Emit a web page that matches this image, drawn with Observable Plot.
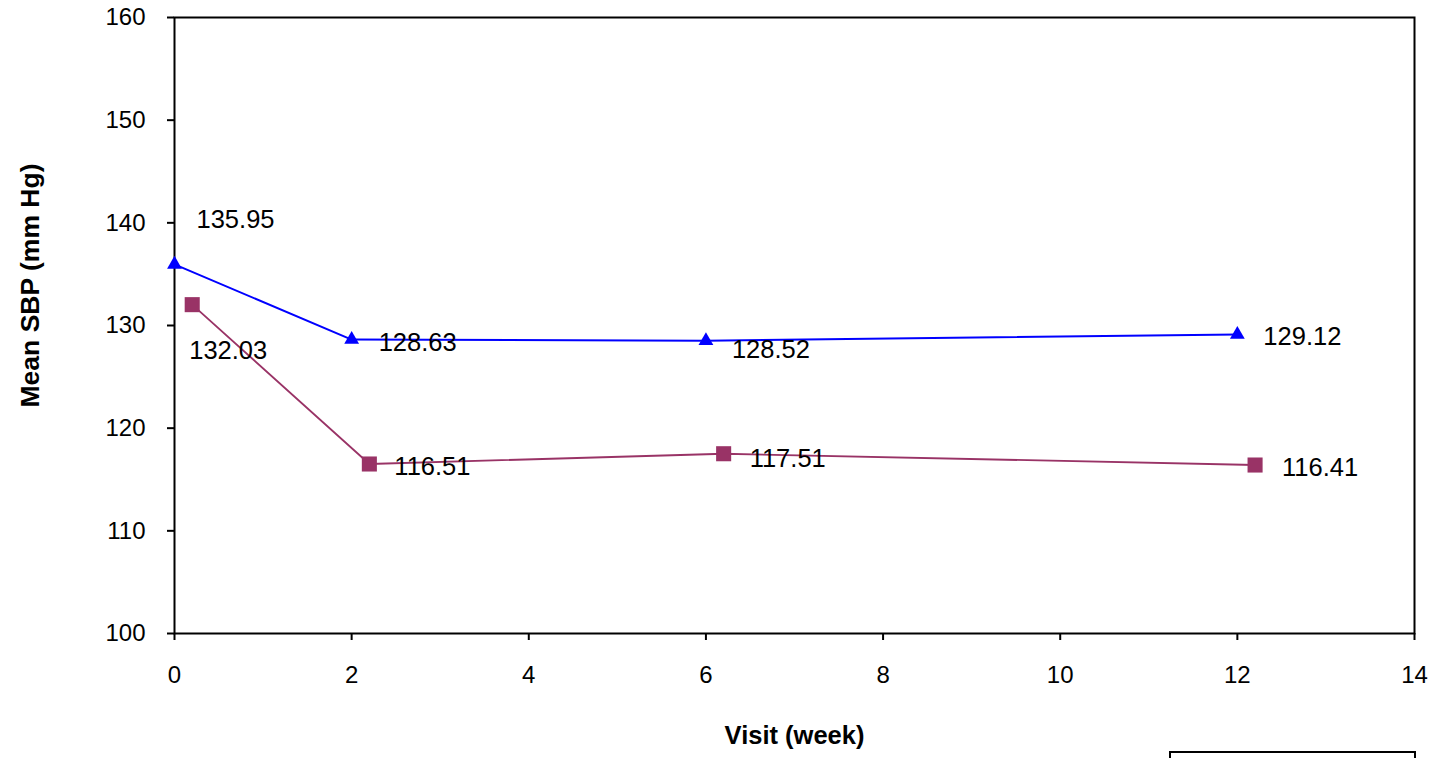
<!DOCTYPE html>
<html>
<head>
<meta charset="utf-8">
<script src="https://cdn.jsdelivr.net/npm/d3@7"></script>
<script src="https://cdn.jsdelivr.net/npm/@observablehq/plot@0.6"></script>
<style>
  html, body { margin: 0; padding: 0; background: #fff; overflow: hidden; }
  #wrap { position: relative; width: 1434px; height: 758px; }
  #legendbox { position: absolute; left: 1169px; top: 751px; width: 243px; height: 40px; border: 2px solid #000; background: #fff; }
</style>
</head>
<body>
<div id="wrap"><div id="chart"></div><div id="legendbox"></div></div>
<script>
// Data
const weeksA = [0, 2, 6, 12];              // blue triangles
const valuesA = [135.95, 128.63, 128.52, 129.12];
const weeksB = [0.2, 2.2, 6.2, 12.2];      // purple squares (plotted slightly offset)
const valuesB = [132.03, 116.51, 117.51, 116.41];
const xTicks = [0, 2, 4, 6, 8, 10, 12, 14];
const yTicks = [100, 110, 120, 130, 140, 150, 160];
const xTitle = "Visit (week)";
const yTitle = "Mean SBP (mm Hg)";

const blue = "#0000FF";
const purple = "#993366";

const dataA = weeksA.map((w, i) => ({x: w, y: valuesA[i], label: valuesA[i].toFixed(2)}));
const dataB = weeksB.map((w, i) => ({x: w, y: valuesB[i], label: valuesB[i].toFixed(2)}));

// label offsets (pixels) per point
const offA = [[22, -45], [27, 3], [26, 9], [26, 2]];
const offB = [[-3, 46], [25, 3], [26, 5], [27, 3]];

const labelMarks = [
  ...dataA.map((d, i) => Plot.text([d], {x: "x", y: "y", text: "label", textAnchor: "start", dx: offA[i][0], dy: offA[i][1], fontSize: 25.5, fill: "#000"})),
  ...dataB.map((d, i) => Plot.text([d], {x: "x", y: "y", text: "label", textAnchor: "start", dx: offB[i][0], dy: offB[i][1], fontSize: 25.5, fill: "#000"}))
];

const chart = Plot.plot({
  width: 1434,
  height: 758,
  marginTop: 17,
  marginRight: 20,
  marginBottom: 125,
  marginLeft: 174,
  style: {fontFamily: "Liberation Sans, Arial, sans-serif", fontSize: "24px", background: "#fff", color: "#000"},
  x: {domain: [0, 14]},
  y: {domain: [100, 160]},
  marks: [
    Plot.axisX({ticks: xTicks, tickSize: 7, tickPadding: 25, label: null, strokeWidth: 2, fontSize: 24, tickFormat: d => String(d)}),
    Plot.axisY({ticks: yTicks, tickSize: 7, tickPadding: 22, label: null, strokeWidth: 2, fontSize: 24, tickFormat: d => String(d)}),
    Plot.frame({stroke: "#000", strokeWidth: 2}),
    Plot.line(dataA, {x: "x", y: "y", stroke: blue, strokeWidth: 2}),
    Plot.line(dataB, {x: "x", y: "y", stroke: purple, strokeWidth: 1.8}),
    Plot.dot(dataA, {x: "x", y: "y", symbol: "triangle", r: 5.5, fill: blue, stroke: "none"}),
    Plot.dot(dataB, {x: "x", y: "y", symbol: "square", r: 8.5, fill: purple, stroke: "none"}),
    ...labelMarks,
    Plot.text([xTitle], {frameAnchor: "bottom", textAnchor: "middle", dy: 110, fontSize: 25.5, fontWeight: "bold", fill: "#000"}),
    Plot.text([yTitle], {frameAnchor: "left", textAnchor: "middle", dx: -144, dy: -40, rotate: -90, fontSize: 26.5, fontWeight: "bold", fill: "#000"})
  ]
});
document.getElementById("chart").appendChild(chart);
</script>
</body>
</html>
